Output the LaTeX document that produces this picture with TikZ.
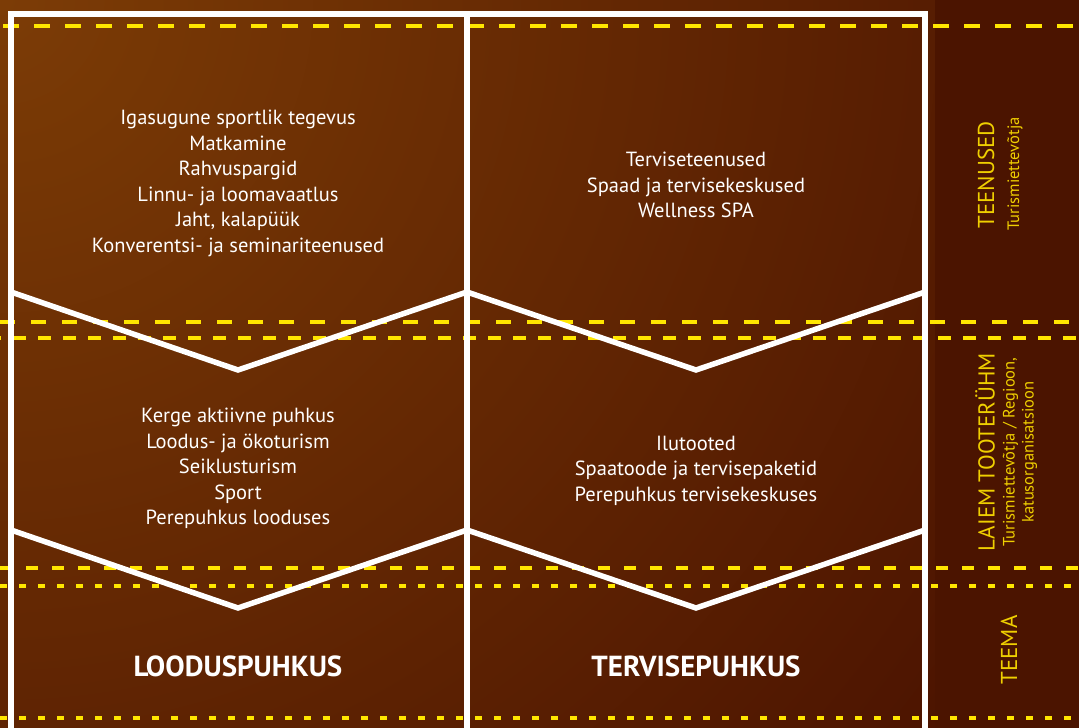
\documentclass[tikz,border=0pt]{standalone}
\usepackage{fontspec}
\setmainfont{PT Sans}
\begin{document}
\begin{tikzpicture}[x=1pt,y=1pt,
  frame/.style={draw=white,line width=5.5pt,line join=miter},
  ydash/.style={draw=yellowline,line width=4pt},
  body/.style={text=white,align=center,font=\fontsize{20.5}{25.5}\selectfont},
  theme/.style={text=white,font=\fontsize{29}{30}\selectfont\bfseries},
  sidebig/.style={text=sideyellow,rotate=90,font=\fontsize{23}{26}\selectfont},
  sidesmall/.style={text=sideyellow,rotate=90,align=center,font=\fontsize{16.5}{19}\selectfont}]
\definecolor{yellowline}{HTML}{FFE600}
\definecolor{sideyellow}{HTML}{EFCF00}
\definecolor{bgA}{HTML}{7C3C06}
\definecolor{bgB}{HTML}{4A1200}
\definecolor{bgC}{HTML}{4B1400}
\useasboundingbox (0,0) rectangle (1079,-728);
% background
\begin{scope}
\clip (0,0) rectangle (935,-728);
\fill[bgB] (0,0) rectangle (935,-728);
\shade[inner color=bgA,outer color=bgB] (0,0) circle (1250);
\end{scope}
\fill[bgC] (935,0) rectangle (1079,-728);
% dashed lines
\draw[ydash,dash pattern=on 16pt off 15pt,dash phase=-3pt] (0,-26) -- (1079,-26);
\draw[ydash,dash pattern=on 15pt off 16pt] (0,-322) -- (1079,-322);
\draw[ydash,dash pattern=on 13pt off 12pt,dash phase=-13pt] (0,-338) -- (1079,-338);
\draw[ydash,dash pattern=on 12pt off 14pt] (0,-568) -- (1079,-568);
\draw[ydash,dash pattern=on 7pt off 12pt] (0,-586) -- (1079,-586);
\draw[ydash,dash pattern=on 7pt off 12pt] (0,-718) -- (1079,-718);
% frame
\coordinate (tl) at (11,-14);
\coordinate (tm) at (467,-14);
\coordinate (tr) at (925,-14);
\coordinate (bl) at (11,-732);
\coordinate (bm) at (467,-732);
\coordinate (br) at (925,-732);
\draw[frame] (bl) -- (tl) -- (tr) -- (br);
\draw[frame] (tm) -- (bm);
\coordinate (c1l) at (11,-292);
\coordinate (c1a) at (238,-370);
\coordinate (c1m) at (467,-292);
\coordinate (c1b) at (696,-370);
\coordinate (c1r) at (925,-292);
\draw[frame] (c1l) -- (c1a) -- (c1m) -- (c1b) -- (c1r);
\coordinate (c2l) at (11,-530);
\coordinate (c2a) at (238,-608);
\coordinate (c2m) at (467,-530);
\coordinate (c2b) at (696,-608);
\coordinate (c2r) at (925,-530);
\draw[frame] (c2l) -- (c2a) -- (c2m) -- (c2b) -- (c2r);
% texts
\node[body] (t1) at (238,-183.5) {Igasugune sportlik tegevus\\Matkamine\\Rahvuspargid\\Linnu- ja loomavaatlus\\Jaht, kalapüük\\Konverentsi- ja seminariteenused};
\node[body] (t2) at (696,-185) {Terviseteenused\\Spaad ja tervisekeskused\\Wellness SPA};
\node[body] (t3) at (238,-468.5) {Kerge aktiivne puhkus\\Loodus- ja ökoturism\\Seiklusturism\\Sport\\Perepuhkus looduses};
\node[body] (t4) at (696,-470.5) {Ilutooted\\Spaatoode ja tervisepaketid\\Perepuhkus tervisekeskuses};
\node[theme] (th1) at (238,-666) {LOODUSPUHKUS};
\node[theme] (th2) at (696,-666) {TERVISEPUHKUS};
% side column
\node[sidebig] (s1) at (986,-175) {TEENUSED};
\node[sidesmall] (s1b) at (1015,-174) {Turismiettevõtja};
\node[sidebig] (s2) at (985,-452) {LAIEM TOOTERÜHM};
\node[sidesmall] (s2b) at (1020,-452) {Turismiettevõtja / Regioon,\\katusorganisatsioon};
\node[sidebig] (s3) at (1009,-650) {TEEMA};
\end{tikzpicture}
\end{document}
